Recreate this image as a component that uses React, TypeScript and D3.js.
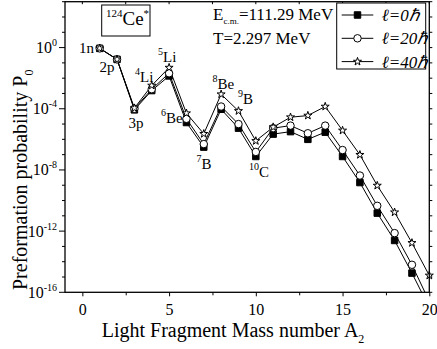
import { useEffect, useRef } from 'react';
import * as d3 from 'd3';

// light fragment mass number A2
const massNumbers = [1, 2, 3, 4, 5, 6, 7, 8, 9, 10, 11, 12, 13, 14, 15, 16, 17, 18, 19, 20];
// preformation probability P0 for l = 0, 20, 40 hbar
const p0L0 = [0.89, 0.17, 8.5e-5, 1.55e-3, 1.4e-2, 1.26e-5, 3.1e-7, 9.3e-5, 5.4e-6, 7.6e-8,
  2.2e-6, 3.2e-6, 1.0e-6, 2.95e-6, 7.6e-8, 1.5e-9, 1.5e-11, 2.45e-13, 1.8e-15, 1e-17];
const p0L20 = [0.89, 0.17, 1.0e-4, 1.9e-3, 2.1e-2, 2.2e-5, 4.9e-7, 1.4e-4, 1.0e-5, 1.5e-7,
  5.4e-6, 7.9e-6, 2.5e-6, 7.9e-6, 2.0e-7, 4.3e-9, 4.5e-11, 7.4e-13, 6.3e-15, 2.5e-17];
const p0L40 = [0.89, 0.17, 1.1e-4, 3.3e-3, 4.9e-2, 5.1e-5, 2.3e-6, 8.9e-4, 7.2e-5, 7.9e-7,
  6.3e-6, 2.8e-5, 3.6e-5, 1.4e-4, 3.8e-6, 9.8e-8, 9.5e-10, 1.7e-11, 1.7e-13, 1.26e-15];
const lValues = ['0', '20', '40'];
const xTicks = [0, 5, 10, 15, 20];
const xMinorTicks = [2.5, 7.5, 12.5, 17.5];
const yLabelExps = [0, -4, -8, -12, -16];

// fragment annotations: [superscript, name, x, baseline]
const fragLabels: [string, string, number, number][] = [
  ['', '1n', 79, 53],
  ['', '2p', 99.5, 72],
  ['', '3p', 128.5, 128],
  ['4', 'Li', 135, 81.5],
  ['5', 'Li', 158, 61.5],
  ['6', 'Be', 161, 123],
  ['7', 'B', 196.5, 169],
  ['8', 'Be', 212.5, 88.5],
  ['9', 'B', 238, 104],
  ['10', 'C', 249, 177],
];

const FONT = '"Liberation Serif", "Times New Roman", serif';

export default function App() {
  const svgRef = useRef<SVGSVGElement>(null);

  useEffect(() => {
    const svg = d3.select(svgRef.current);
    svg.selectAll('*').remove();

    const left = 65, right = 429.3, top = 1.7, bottom = 292.3;
    const x = d3.scaleLinear().domain([-1, 20]).range([left, right]);
    const y = d3.scaleLog().domain([1e-16, 1e3]).range([bottom, top]);

    svg.append('rect').attr('width', 437).attr('height', 349).attr('fill', '#fff');

    svg.append('defs').append('clipPath').attr('id', 'plotClip')
      .append('rect')
      .attr('x', left).attr('y', top)
      .attr('width', right - left).attr('height', bottom - top);

    // bottom axis
    const xAxis = svg.append('g')
      .attr('transform', `translate(0,${bottom})`)
      .call(d3.axisBottom(x).tickValues(xTicks).tickSize(4).tickPadding(7).tickFormat(d3.format('d')));
    xAxis.select('.domain').remove();
    xAxis.selectAll('text').style('font-family', FONT).style('font-size', '16px').attr('fill', '#000');

    const xMinor = svg.append('g')
      .attr('transform', `translate(0,${bottom})`)
      .call(d3.axisBottom(x).tickValues(xMinorTicks).tickSize(3).tickFormat(() => ''));
    xMinor.select('.domain').remove();

    // top ticks (inward)
    svg.append('g').selectAll('line')
      .data([...xTicks, ...xMinorTicks])
      .enter().append('line')
      .attr('x1', d => x(d)).attr('x2', d => x(d))
      .attr('y1', top).attr('y2', top + 2.5)
      .attr('stroke', '#000');

    // left and right ticks
    const decades = d3.range(-16, 4).map(e => Math.pow(10, e));
    svg.append('g').selectAll('line')
      .data(decades)
      .enter().append('line')
      .attr('x1', d => (yLabelExps.includes(Math.round(Math.log10(d))) ? left - 6 : left - 3))
      .attr('x2', left)
      .attr('y1', d => y(d)).attr('y2', d => y(d))
      .attr('stroke', '#000');
    svg.append('g').selectAll('line')
      .data(decades)
      .enter().append('line')
      .attr('x1', right).attr('x2', right + 3)
      .attr('y1', d => y(d)).attr('y2', d => y(d))
      .attr('stroke', '#000');

    const yLabels = svg.append('g')
      .style('font-family', FONT)
      .attr('text-anchor', 'end');
    yLabelExps.forEach(e => {
      const t = yLabels.append('text')
        .attr('x', left - 8)
        .attr('y', y(Math.pow(10, e)) + 5.5)
        .style('font-size', '16px');
      t.append('tspan').text('10');
      t.append('tspan').attr('dy', -7).style('font-size', '10px').text(String(e));
    });

    // series
    const series = [p0L0, p0L20, p0L40];
    const symbols = [d3.symbolSquare, d3.symbolCircle, d3.symbolStar];
    const symSizes = [42, 44, 20];
    const fills = ['#000', '#fff', '#fff'];

    const line = d3.line<number>()
      .x((_, i) => x(massNumbers[i]))
      .y(d => y(d));

    series.forEach((vals) => {
      svg.append('path')
        .datum(vals)
        .attr('clip-path', 'url(#plotClip)')
        .attr('d', line)
        .attr('fill', 'none')
        .attr('stroke', '#000')
        .attr('stroke-width', 1);
    });

    series.forEach((vals, si) => {
      const sym = d3.symbol().type(symbols[si]).size(symSizes[si]);
      svg.append('g').selectAll('path')
        .data(vals.map((v, i) => ({ a: massNumbers[i], v })).filter(d => d.v >= 1e-16))
        .enter().append('path')
        .attr('transform', d => `translate(${x(d.a)},${y(d.v)})`)
        .attr('d', sym)
        .attr('fill', fills[si])
        .attr('stroke', '#000')
        .attr('stroke-width', 1);
    });

    // frame
    svg.append('rect')
      .attr('x', left).attr('y', top)
      .attr('width', right - left).attr('height', bottom - top)
      .attr('fill', 'none').attr('stroke', '#000').attr('stroke-width', 1.3);

    // fragment labels
    const labs = svg.append('g').style('font-family', FONT);
    fragLabels.forEach(([sup, name, lx, ly]) => {
      const t = labs.append('text').attr('x', lx).attr('y', ly).style('font-size', '15px');
      if (sup) {
        t.append('tspan').attr('dy', -7).style('font-size', '10px').text(sup);
        t.append('tspan').attr('dy', 7).text(name);
      } else {
        t.text(name);
      }
    });

    // nucleus box
    svg.append('rect')
      .attr('x', 101.7).attr('y', 5).attr('width', 48.3).attr('height', 31)
      .attr('fill', '#fff').attr('stroke', '#000');
    const ce = svg.append('text').attr('x', 106).attr('y', 25)
      .style('font-family', FONT).style('font-size', '19px');
    ce.append('tspan').attr('dy', -8).style('font-size', '11px').text('124');
    ce.append('tspan').attr('dy', 8).text('Ce');
    ce.append('tspan').attr('dy', -8).style('font-size', '11px').text('*');

    // energy and temperature
    const en = svg.append('text').attr('x', 213).attr('y', 19.5)
      .style('font-family', FONT).style('font-size', '17px');
    en.append('tspan').text('E');
    en.append('tspan').attr('dy', 4).style('font-size', '9px').text('c.m.');
    en.append('tspan').attr('dy', -4).text('=111.29 MeV');
    svg.append('text').attr('x', 213).attr('y', 44)
      .style('font-family', FONT).style('font-size', '17px')
      .text('T=2.297 MeV');

    // legend
    const lg = svg.append('g');
    lg.append('rect')
      .attr('x', 336.7).attr('y', 3).attr('width', 89).attr('height', 66)
      .attr('fill', '#fff').attr('stroke', '#000');
    lValues.forEach((l, i) => {
      const ry = 15 + i * 23.3;
      lg.append('line')
        .attr('x1', 341.7).attr('x2', 373.3)
        .attr('y1', ry).attr('y2', ry)
        .attr('stroke', '#000');
      lg.append('path')
        .attr('transform', `translate(357.5,${ry})`)
        .attr('d', d3.symbol().type(symbols[i]).size(symSizes[i]))
        .attr('fill', fills[i]).attr('stroke', '#000');
      lg.append('text')
        .attr('x', 381.7).attr('y', ry + 6)
        .style('font-family', FONT).style('font-size', '17px').style('font-style', 'italic')
        .text(`\u2113=${l}\u210F`);
    });

    // axis titles
    const xt = svg.append('text').attr('x', 101.7).attr('y', 336.7)
      .style('font-family', FONT).style('font-size', '20px');
    xt.append('tspan').text('Light Fragment Mass number A');
    xt.append('tspan').attr('dy', 6).style('font-size', '12px').text('2');

    const yt = svg.append('text')
      .attr('transform', 'translate(27,290) rotate(-90)')
      .style('font-family', FONT).style('font-size', '20px');
    yt.append('tspan').text('Preformation probability P');
    yt.append('tspan').attr('dy', 6).style('font-size', '12px').text('0');
  }, []);

  return (
    <svg ref={svgRef} width={437} height={349}
      style={{ position: 'absolute', left: 0, top: 0 }} />
  );
}
